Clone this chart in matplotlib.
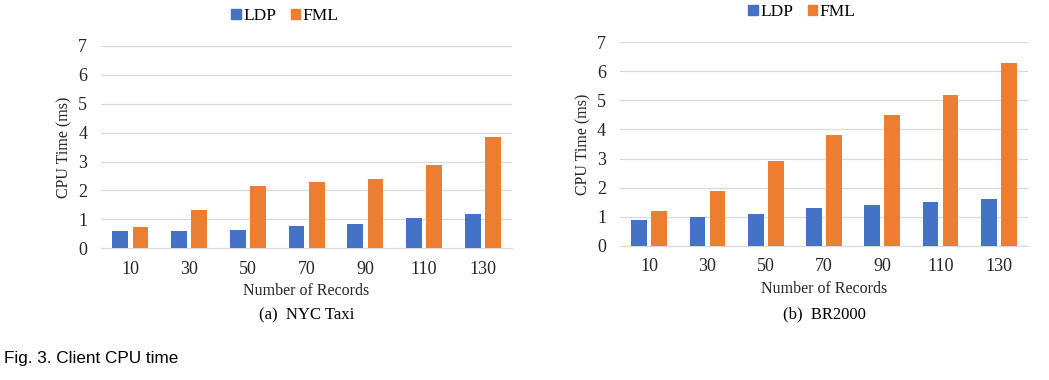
import numpy as np
import matplotlib
matplotlib.use("Agg")
from matplotlib import pyplot as plt
from matplotlib.patches import Patch

records = ["10", "30", "50", "70", "90", "110", "130"]

# (a) NYC Taxi
ldp_taxi = [0.58, 0.60, 0.64, 0.76, 0.83, 1.06, 1.17]
fml_taxi = [0.72, 1.33, 2.16, 2.28, 2.41, 2.88, 3.86]

# (b) BR2000
ldp_br = [0.9, 1.0, 1.1, 1.3, 1.4, 1.5, 1.6]
fml_br = [1.2, 1.9, 2.9, 3.8, 4.5, 5.2, 6.3]

blue = "#4472C4"
orange = "#ED7D31"

plt.rcParams["font.family"] = ["Liberation Serif", "DejaVu Serif"]

fig = plt.figure(figsize=(10.49, 3.8), dpi=100)
ax1 = fig.add_axes([0.0963, 0.347, 0.392, 0.532])
ax2 = fig.add_axes([0.591, 0.353, 0.389, 0.536])


def draw(ax, ldp, fml, caption, leg_x, leg_y):
    x = np.arange(len(records))
    w = 0.27
    ax.bar(x - 0.172, ldp, w, color=blue, zorder=3)
    ax.bar(x + 0.172, fml, w, color=orange, zorder=3)
    ax.set_xlim(-0.5, len(records) - 0.5)
    ax.set_ylim(0, 7)
    ax.set_yticks(range(8))
    ax.set_xticks(x)
    ax.set_xticklabels(records)
    ax.yaxis.grid(True, color="#d9d9d9", linewidth=0.9, zorder=0)
    for s in ["top", "right", "left"]:
        ax.spines[s].set_visible(False)
    ax.spines["bottom"].set_color("#d9d9d9")
    ax.tick_params(axis="both", length=0, labelsize=13, colors="#262626")
    ax.tick_params(axis="y", pad=10)
    ax.tick_params(axis="x", pad=9)
    ax.set_ylabel("CPU Time (ms)", fontsize=11.5, color="#262626", labelpad=4)
    ax.set_xlabel("Number of Records", fontsize=11.5, color="#262626", labelpad=4)
    ax.text(0.5, -0.295, caption, transform=ax.transAxes, ha="center", va="top",
            fontsize=12)
    handles = [Patch(color=blue, label="LDP"), Patch(color=orange, label="FML")]
    fig.legend(handles=handles, loc="center", bbox_to_anchor=(leg_x, leg_y), ncol=2,
               frameon=False, fontsize=12.5, handlelength=0.55, handleheight=0.55,
               handletextpad=0.15, columnspacing=0.8)


draw(ax1, ldp_taxi, fml_taxi, "(a)  NYC Taxi", 285 / 1049, 1 - 16 / 380)
draw(ax2, ldp_br, fml_br, "(b)  BR2000", 802 / 1049, 1 - 12 / 380)

fig.text(4 / 1049, 1 - 358 / 380, "Fig. 3. Client CPU time", fontsize=12.3,
         family=["Liberation Sans", "DejaVu Sans"], va="center", ha="left")

fig.savefig("out.png", dpi=100)
